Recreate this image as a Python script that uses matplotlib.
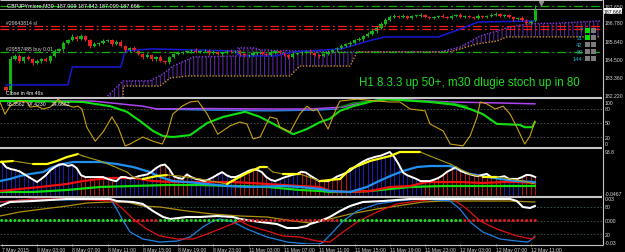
import matplotlib
matplotlib.use('Agg')
import matplotlib.pyplot as plt
from matplotlib.patches import Polygon, Rectangle
from matplotlib.lines import Line2D
import numpy as np

W, H = 625, 253
plt.rcParams['font.family'] = ['Liberation Sans', 'DejaVu Sans']
plt.rcParams['hatch.linewidth'] = 0.8

# ---------------- data ----------------
title_text = "GBPJPYmicro,M30  187.009 187.842 187.009 187.666"
comment_text = "H1 8.3.3 up 50+, m30 dlugie stoch up in 80"
close_timer = "Close in 4m 46s"
order_sl_label = "#29643814 sl"
order_buy_label = "#29557485 buy 0.01"
stoch_values_text = ["93.3562", "97.4230", "24.6662"]

first_open = 182.78
closes = [182.59, 184.53, 184.72, 184.41, 184.66, 184.53, 184.28, 184.41, 184.53, 184.41,
          184.72, 185.03, 185.16, 185.53, 185.72, 185.91, 185.78, 185.97, 185.72, 185.34,
          185.47, 185.53, 185.66, 185.72, 185.47, 185.59, 185.34, 185.09, 185.22, 185.03,
          184.84, 184.66, 184.78, 184.53, 184.66, 184.41, 184.34, 184.66, 184.84, 184.91,
          184.97, 185.03, 185.09, 184.97, 185.03, 185.09, 184.91, 184.97, 184.84, 184.91,
          185.03, 184.97, 185.03, 184.84, 184.72, 184.78, 184.91, 184.97, 184.84, 184.78,
          184.97, 185.03, 184.91, 184.78, 184.66, 184.84, 184.91, 184.97, 185.03, 184.91,
          184.78, 184.72, 184.84, 184.97, 185.09, 185.22, 185.34, 185.47, 185.53, 185.72,
          185.78, 185.97, 186.09, 186.28, 186.47, 186.72, 186.97, 187.16, 187.22, 187.16,
          187.22, 187.09, 187.22, 187.22, 187.28, 187.16, 187.09, 187.16, 187.22, 187.16,
          187.09, 187.22, 187.28, 187.16, 187.22, 187.16, 187.09, 187.22, 187.16, 187.22,
          187.28, 187.34, 187.22, 187.28, 187.16, 187.03, 187.09, 186.97, 186.78, 186.91,
          187.666]
wick_up = [0.08, 0.18, 0.10, 0.12, 0.07, 0.15, 0.06, 0.10, 0.08, 0.11,
           0.07, 0.10, 0.08, 0.14, 0.08, 0.18, 0.12, 0.15, 0.07, 0.08,
           0.10, 0.06, 0.11, 0.08, 0.07, 0.12, 0.10, 0.08, 0.07, 0.10,
           0.08, 0.06, 0.11, 0.07, 0.08, 0.10, 0.06, 0.08, 0.07, 0.10,
           0.06, 0.08, 0.07, 0.10, 0.06, 0.08, 0.07, 0.10, 0.06, 0.08,
           0.07, 0.10, 0.06, 0.08, 0.07, 0.06, 0.10, 0.07, 0.08, 0.06,
           0.10, 0.07, 0.08, 0.06, 0.07, 0.10, 0.06, 0.08, 0.07, 0.10,
           0.06, 0.08, 0.07, 0.10, 0.08, 0.07, 0.10, 0.08, 0.11, 0.07,
           0.10, 0.08, 0.12, 0.10, 0.11, 0.14, 0.10, 0.12, 0.11, 0.08,
           0.10, 0.07, 0.08, 0.06, 0.10, 0.07, 0.08, 0.06, 0.07, 0.10,
           0.06, 0.08, 0.07, 0.10, 0.06, 0.08, 0.07, 0.10, 0.08, 0.06,
           0.10, 0.15, 0.07, 0.08, 0.06, 0.07, 0.08, 0.10, 0.07, 0.08,
           0.25]
wick_dn = [0.15, 0.22, 0.08, 0.10, 0.11, 0.08, 0.12, 0.07, 0.10, 0.08,
           0.11, 0.07, 0.08, 0.10, 0.07, 0.08, 0.10, 0.07, 0.08, 0.11,
           0.08, 0.10, 0.07, 0.08, 0.10, 0.07, 0.08, 0.11, 0.10, 0.08,
           0.07, 0.10, 0.08, 0.11, 0.12, 0.08, 0.14, 0.10, 0.08, 0.07,
           0.08, 0.06, 0.10, 0.07, 0.08, 0.06, 0.10, 0.07, 0.08, 0.11,
           0.06, 0.07, 0.08, 0.10, 0.07, 0.08, 0.06, 0.10, 0.07, 0.08,
           0.07, 0.10, 0.08, 0.06, 0.11, 0.07, 0.08, 0.10, 0.07, 0.06,
           0.08, 0.10, 0.07, 0.08, 0.06, 0.10, 0.07, 0.08, 0.10, 0.07,
           0.08, 0.10, 0.07, 0.08, 0.10, 0.07, 0.08, 0.06, 0.07, 0.08,
           0.06, 0.07, 0.08, 0.06, 0.07, 0.08, 0.06, 0.07, 0.08, 0.06,
           0.07, 0.08, 0.06, 0.07, 0.08, 0.06, 0.07, 0.08, 0.06, 0.07,
           0.08, 0.06, 0.07, 0.08, 0.06, 0.10, 0.07, 0.08, 0.12, 0.07,
           0.08]

blue_idx = [1, 15, 16, 27, 28, 34, 53, 54, 62, 66, 77, 80, 84, 87, 99, 104, 108, 121]
blue_val = [182.91, 182.91, 184.03, 184.03, 185.03, 185.16, 185.03, 184.72, 184.72, 184.97,
            185.16, 185.40, 185.72, 185.91, 185.91, 186.40, 186.84, 186.91]

cloud_up_idx = [24, 27.5, 33.6, 36.6, 38.8, 42, 43.4, 53.4, 53.6, 57.5, 58.6, 67.6, 74.4,
                99.4, 104, 108.5, 112.3, 115.3, 119, 126.6, 135.7]
cloud_up_val = [182.22, 183.16, 183.16, 183.59, 184.09, 184.47, 184.66, 184.72, 185.22, 185.22,
                185.09, 185.03, 184.97, 184.97, 185.28, 185.97, 186.28, 186.53, 186.72, 186.78, 186.91]
cloud_lo_idx = [24, 27.5, 27.6, 35.9, 38.2, 42, 65.4, 67.6, 79, 80.6, 101.6, 107.8, 112.3, 114.6, 135.7]
cloud_lo_val = [182.10, 182.10, 182.84, 182.84, 183.34, 183.47, 183.47, 184.09, 184.09, 184.97,
                184.97, 185.47, 185.66, 185.91, 185.91]

bid_price = 187.666
tp_level = 187.84
sl_levels = [186.59, 186.405]
buy_level = 184.97

price_ticks = [186.780, 185.640, 184.500, 183.360, 182.220]
price_top_tick = 187.650

ma_periods = ["7", "21", "42", "89", "144"]
ma_state_a = [1, 1, 0, 0, 0]
ma_state_b = [0, 0, 0, 0, 0]

# panel 2 (stochastics)
p2_yel_idx = [-0.4, 0.75, 1.9, 3.7, 5.7, 6.4, 8.0, 9.4, 11.0, 12.8, 13.9, 16.2, 17.3, 18.2, 19.3,
              21.2, 23.0, 25.0, 26.4, 28.0, 29.1, 32.0, 34.3, 36.4, 37.5, 38.8, 40.9, 42.7, 44.5,
              46.6, 49.0, 51.8, 54.0, 55.6, 57.0, 58.6, 60.8, 62.4, 63.1, 65.4, 67.6, 69.2, 70.6,
              71.5, 74.0, 76.0, 76.7, 80.6, 85.1, 88.1, 90.3, 92.6, 96.0, 97.1, 100.1, 101.7,
              104.6, 106.2, 107.8, 108.5, 110.0, 111.9, 113.7, 115.3, 116.8, 118.6, 119.8, 120.9]
p2_yel_val = [95, 69, 86, 97, 95, 84, 86, 80, 84, 101, 91, 84, 86, 80, 41,
              11, 31, 63, 41, 1, 5, 20, 11, 5, 26, 69, 86, 95, 97,
              69, 26, 44, 52, 48, 16, 20, 63, 59, 41, 31, 69, 86, 76,
              80, 37, 84, 97, 101, 97, 95, 95, 80, 76, 48, 33, 5,
              1, 22, 63, 95, 91, 80, 86, 69, 41, 5, 22, 54]
p2_grn_idx = [-0.4, 7.1, 18.4, 24.6, 28.4, 31.4, 34.3, 36.6, 38.8, 42.7, 46.6, 50.2, 55.2, 58.6,
              62.4, 66.1, 69.2, 72.2, 74.4, 76.7, 79.7, 84.2, 87.4, 97.1, 102.8, 106.2, 109.1,
              112.3, 117.5, 118.6, 120.3, 120.9]
p2_grn_val = [97, 97, 95, 86, 74, 54, 33, 22, 20, 24, 50, 63, 74, 63,
              44, 26, 37, 52, 59, 76, 86, 97, 101, 95, 89, 80, 69,
              48, 46, 41, 41, 52]
p2_pur_idx = [-0.4, 20.7, 26.8, 32.0, 35.2, 45.0, 60.2, 69.9, 77.4, 81.9, 87.4, 92.6, 101.7, 112.3, 120.9]
p2_pur_val = [97, 97, 91, 86, 80, 81, 80, 80, 84, 95, 101, 99, 95, 93, 91]
p2_blu_idx = [35.2, 45.0, 60.8, 72.2, 76.0]
p2_blu_val = [80, 78, 76, 78, 80]
p2_dgr_idx = [76.7, 79.7, 87.4, 94.9, 101.7, 105.5]
p2_dgr_val = [84, 93, 100, 97, 93, 86]
p2_levels = [80, 50, 20]
p2_labels = ["100", "80", "50", "20", "0"]
p2_label_vals = [100, 80, 50, 20, 0]

# panel 3
hist = [74, 62, 58, 56, 53, 47, 41, 35, 29, 36,
        44, 55, 62, 68, 69, 65, 67, 60, 44, 40,
        40, 40, 40, 40, 36, 33, 31, 40, 40, 37,
        38, 42, 44, 46, 52, 60, 66, 68, 58, 42,
        38, 36, 46, 40, 36, 34, 31, 35, 40, 46,
        51, 44, 40, 40, 44, 49, 54, 57, 56, 51,
        40, 34, 31, 35, 39, 42, 45, 47, 52, 50,
        43, 37, 31, 31, 31, 35, 41, 45, 49, 54,
        62, 69, 75, 80, 83, 86, 88, 92, 96, 85,
        69, 50, 44, 40, 36, 31, 31, 31, 34, 38,
        44, 52, 57, 62, 54, 50, 47, 44, 42, 45,
        47, 40, 40, 40, 42, 36, 36, 36, 40, 45,
        44, 40]
hist_dir = ("bbbbbbbbbbbbbbbbbb" "rrrrrrrr" "bbbbbbbbbb" "rrrrrrr" "bbbbbbbbbb" "rrrrrrrr"
            "bbbbbbb" "rrrrrrrrrrr" "bbbbbbbbbbbbbbbbb" "rrrrrrrrrrrrrrrrrr" "bbbb" "rrrr")
p3_yel_idx = [-0.4, 2.6, 4.1, 7.1, 10.3, 12.5, 14.8, 17.3, 18.4, 22.3, 25.2, 28.4, 29.8, 32.0, 35.2,
              37.5, 40.4, 45.0, 51.1, 51.8, 55.2, 58.6, 60.2, 61.5, 63.8, 67.6, 72.2, 74.4, 76.7,
              79.0, 83.5, 88.1, 90.3, 94.9, 97.1, 101.7, 103.9, 106.2, 109.1, 112.3, 115.3, 118.2, 120.9]
p3_yel_val = [73.7, 75.9, 73.7, 69.2, 69.2, 75.9, 84.8, 91.5, 87.1, 75.9, 64.7, 51.3, 40.2, 35.7, 42.4,
              44.6, 42.4, 35.7, 24.6, 29.0, 46.9, 62.5, 62.5, 51.3, 46.9, 46.9, 31.2, 33.5, 35.7,
              58.0, 75.9, 87.1, 96.0, 96.0, 87.1, 69.2, 58.0, 46.9, 40.2, 40.2, 35.7, 31.2, 24.6]
p3_blu_idx = [-0.4, 1.9, 4.1, 6.4, 9.4, 11.6, 13.9, 16.2, 18.4, 22.3, 26.1, 29.8, 33.6, 35.9, 38.8,
              42.0, 46.6, 51.1, 56.3, 63.8, 67.6, 72.2, 74.4, 79.0, 82.8, 85.1, 88.1, 91.0, 94.2,
              97.1, 101.7, 103.2, 106.2, 109.1, 113.0, 116.8, 120.9]
p3_blu_val = [31.2, 35.7, 42.4, 46.9, 51.3, 62.5, 69.2, 73.7, 73.7, 73.7, 69.2, 62.5, 51.3, 40.2, 31.2,
              29.0, 24.6, 20.1, 17.9, 20.1, 17.9, 13.4, 8.9, 6.7, 17.9, 29.0, 42.4, 53.6, 62.5,
              64.7, 64.7, 58.0, 46.9, 42.4, 35.7, 31.2, 29.0]
p3_red_idx = [-0.4, 4.1, 8.7, 14.8, 18.4, 22.3, 25.2, 29.8, 34.3, 38.8, 45.0, 52.5, 60.2, 67.6, 72.2,
              74.4, 79.0, 83.5, 88.1, 92.6, 96.4, 100.1, 103.9, 109.1, 113.7, 116.8, 120.9]
p3_red_val = [8.9, 13.4, 17.9, 24.6, 31.2, 35.7, 37.9, 37.9, 31.2, 29.0, 29.0, 29.0, 24.6, 20.1, 17.9,
              8.9, 6.7, 8.9, 17.9, 20.1, 29.0, 29.0, 29.0, 26.8, 29.0, 29.0, 26.8]
p3_grn_idx = [-0.4, 7.1, 14.8, 22.3, 29.8, 37.5, 45.0, 52.5, 60.2, 67.6, 72.2, 74.4, 79.0, 83.5,
              88.1, 92.6, 100.1, 107.8, 115.3, 120.9]
p3_grn_val = [6.7, 6.7, 11.2, 17.9, 20.1, 22.3, 22.3, 20.1, 17.9, 11.2, 8.9, 6.7, 6.7, 8.9,
              13.4, 17.9, 20.1, 20.1, 20.1, 20.1]
p3_top_label = "93.8"
p3_bottom_label = "-0.0467"

# panel 4
p4_wht_idx = [-0.4, 1.9, 7.1, 14.8, 24.6, 26.1, 29.8, 32.0, 34.3, 36.6, 38.2, 42.0, 45.0, 48.8, 52.5,
              54.0, 58.6, 62.4, 64.7, 67.0, 69.2, 69.9, 72.2, 74.4, 76.7, 79.0, 81.9, 86.5, 92.6,
              115.3, 116.8, 118.2, 119.8, 120.9]
p4_wht_val = [82.2, 91.1, 93.3, 97.8, 97.8, 93.3, 91.1, 86.7, 71.1, 57.8, 53.3, 57.8, 57.8, 60.0, 57.8,
              53.3, 46.7, 42.2, 33.3, 33.3, 37.8, 42.2, 48.9, 57.8, 71.1, 82.2, 91.1, 93.3, 97.8,
              97.8, 93.3, 80.0, 77.8, 82.2]
p4_red_idx = [-0.4, 7.1, 14.8, 25.2, 27.5, 29.8, 32.9, 35.9, 39.8, 43.4, 46.6, 51.1, 54.0, 56.3, 60.2,
              63.8, 67.6, 71.5, 74.4, 77.4, 80.6, 85.1, 89.6, 94.2, 98.7, 102.3, 105.5, 108.5, 112.3,
              116.8, 120.3, 120.9]
p4_red_val = [91.1, 97.8, 97.8, 93.3, 75.6, 53.3, 31.1, 15.6, 8.9, 8.9, 20.0, 37.8, 48.9, 37.8, 26.7,
              15.6, 13.3, 4.4, 2.2, 24.4, 46.7, 68.9, 86.7, 93.3, 97.8, 97.8, 75.6, 48.9, 31.1,
              15.6, 8.9, 15.6]
p4_blu_idx = [-0.4, 7.1, 14.8, 24.6, 25.7, 27.3, 29.1, 32.0, 35.9, 39.8, 42.7, 45.6, 47.9, 49.5, 52.5,
              55.6, 60.2, 64.7, 69.2, 72.2, 72.9, 75.1, 77.4, 80.6, 85.1, 89.6, 94.9, 101.7, 103.9,
              106.2, 109.1, 113.0, 116.8, 119.3, 120.9]
p4_blu_val = [91.1, 97.8, 95.6, 97.8, 82.2, 53.3, 24.4, 8.9, 2.2, 4.4, 13.3, 35.6, 48.9, 53.3, 46.7,
              31.1, 13.3, 2.2, -2.0, -2.0, 2.2, 24.4, 48.9, 71.1, 86.7, 93.3, 97.8, 93.3, 75.6,
              46.7, 24.4, 8.9, 4.4, 2.2, 13.3]
p4_olv_idx = [-0.4, 4.1, 9.4, 14.8, 19.3, 24.6, 28.4, 32.0, 35.9, 42.0, 47.9, 54.0, 60.2, 66.1,
              69.9, 74.4, 79.0, 85.1, 89.6, 95.5, 100.1, 115.3, 120.9]
p4_olv_val = [60.0, 68.9, 75.6, 82.2, 88.9, 91.1, 91.1, 82.2, 80.0, 71.1, 64.4, 60.0, 57.8, 48.9,
              44.4, 53.3, 64.4, 75.6, 82.2, 91.1, 93.3, 93.3, 91.1]
p4_dots = ("g" * 30 + "r" * 6 + "g" * 18 + "r" * 23 + "g" * 28 + "r" * 17)
p4_levels = [80, 50, 20]
p4_labels = ["0.03", "80", "0000", "20", "-0.03"]
p4_label_vals = [99, 82, 50, 20, 1]

date_idx = [0, 8, 16, 24, 32, 40, 48, 56, 64, 72, 80, 88, 96, 104, 112, 120]
date_labels = ["7 May 2015", "8 May 03:00", "8 May 07:00", "8 May 11:00", "8 May 15:00",
               "8 May 19:00", "8 May 23:00", "11 May 03:00", "11 May 07:00", "11 May 11:00",
               "11 May 15:00", "11 May 19:00", "11 May 23:00", "12 May 03:00", "12 May 07:00",
               "12 May 11:00"]

# ---------------- drawing ----------------
XMIN, XMAX = -0.385, 136.12
AXIS_X = 602
LBL = '#d8d8d8'
SMALL = 3.7

fig = plt.figure(figsize=(W / 100, H / 100), dpi=100, facecolor='black')


def px_axes(x0, y0, x1, y1, ylim):
    ax = fig.add_axes([x0 / W, 1 - y1 / H, (x1 - x0) / W, (y1 - y0) / H])
    ax.set_facecolor('black')
    for s in ax.spines.values():
        s.set_visible(False)
    ax.set_xticks([])
    ax.set_yticks([])
    ax.set_xlim(XMIN, XMAX)
    ax.set_ylim(*ylim)
    return ax


def ftext(x, y, s, **kw):
    kw.setdefault('va', 'center')
    kw.setdefault('ha', 'left')
    kw.setdefault('fontsize', SMALL)
    kw.setdefault('color', LBL)
    fig.text(x / W, 1 - y / H, s, **kw)


def fline(x0, y0, x1, y1, color='#c4c4c4', lw=1.0):
    fig.add_artist(Line2D([x0 / W, x1 / W], [1 - y0 / H, 1 - y1 / H],
                          transform=fig.transFigure, color=color, lw=lw, solid_capstyle='butt'))


def rlabel(ax, val, s, **kw):
    kw.setdefault('va', 'center')
    ax.text(1.005, val, s, transform=ax.get_yaxis_transform(), fontsize=SMALL,
            color=LBL, ha='left', clip_on=False, **kw)


# ---- main panel ----
ax = px_axes(0, 2, AXIS_X, 98, (182.155, 188.155))

# cloud
poly = list(zip(cloud_up_idx, cloud_up_val)) + list(zip(cloud_lo_idx[::-1], cloud_lo_val[::-1]))
ax.add_patch(Polygon(poly, closed=True, fill=False, hatch='||||',
                     edgecolor=(0.45, 0.2, 0.8, 0.75), lw=0))
ax.plot(cloud_up_idx, cloud_up_val, color='#8a3ae8', ls=(0, (1, 1.2)), lw=1.0)
ax.plot(cloud_lo_idx, cloud_lo_val, color='#c8901c', ls=(0, (1, 1.2)), lw=1.0)

# horizontal order lines
dashdot = (0, (7, 2.5, 1.5, 2.5))
ax.axhline(tp_level, color='#10b010', lw=0.9, ls=dashdot)
for lv in sl_levels:
    ax.axhline(lv, color='#ff1a1a', lw=0.9, ls=dashdot)
ax.axhline(buy_level, color='#10b010', lw=0.9, ls=dashdot)
ax.axhline(bid_price, color='#9a9a9a', lw=0.7)

ax.plot(blue_idx, blue_val, color='#1818d8', lw=1.1)

# candles
n = len(closes)
idx = np.arange(1, n + 1)
opens = np.array([first_open] + closes[:-1])
cl = np.array(closes)
hi = np.maximum(opens, cl) + np.array(wick_up)
lo = np.minimum(opens, cl) - np.array(wick_dn)
cols = ['#12b312' if c >= o else '#e82020' for o, c in zip(opens, cl)]
ax.vlines(idx, lo, hi, colors=cols, lw=0.75)
ax.bar(idx, np.maximum(np.abs(cl - opens), 0.05), bottom=np.minimum(opens, cl),
       width=0.75, color=cols, lw=0)

ax.plot([122.4], [188.05], marker='v', color='#8a8a8a', ms=3, clip_on=False)

# price axis labels
for v in price_ticks:
    rlabel(ax, v, f"{v:.3f}")
rlabel(ax, price_top_tick, f"{price_top_tick:.3f}", )
ax.texts[-1].set_va('bottom')
ax.text(1.002, bid_price, f"{bid_price:.3f}", transform=ax.get_yaxis_transform(),
        fontsize=SMALL, color='black', va='top', ha='left', clip_on=False,
        bbox=dict(boxstyle='square,pad=0.12', fc='white', ec='none'))

ax.text(0.012, 0.96, title_text, transform=ax.transAxes, fontsize=3.9, color='white', va='center')
ax.text(0.010, 186.67, order_sl_label, fontsize=3.7, color='#d0d0d0', va='bottom',
        transform=ax.get_yaxis_transform())
ax.text(0.010, 185.00, order_buy_label, fontsize=3.7, color='#d0d0d0', va='bottom',
        transform=ax.get_yaxis_transform())
ax.text(0.010, 0.02, close_timer, transform=ax.transAxes, fontsize=3.7, color='white', va='bottom')
ftext(359, 83, comment_text, fontsize=8.3, color='#20e020')

# MA ladder
for k, (lab, a, b) in enumerate(zip(ma_periods, ma_state_a, ma_state_b)):
    yy = 31 + k * 7.2
    ftext(582.5, yy, lab, ha='right', color='#20b8c8', fontsize=4.0)
    for j, st in enumerate((a, b)):
        fig.add_artist(Rectangle(((585 + 6 * j) / W, 1 - (yy + 2.5) / H), 5 / W, 5 / H,
                                 transform=fig.transFigure,
                                 color='#00e000' if st else '#7c7c7c', lw=0))

# ---- panel 2 ----
ax2 = px_axes(0, 100, AXIS_X, 148, (-1.39, 101.39))
for lv in p2_levels:
    ax2.axhline(lv, color='#505858', lw=0.6, ls=(0, (2, 2)))
ax2.plot(p2_blu_idx, p2_blu_val, color='#2a7ad8', lw=1.1)
ax2.plot(p2_pur_idx, p2_pur_val, color='#b044f0', lw=1.1)
ax2.plot(p2_dgr_idx, p2_dgr_val, color='#0a8a0a', lw=1.1)
ax2.plot(p2_grn_idx, p2_grn_val, color='#10e010', lw=1.5)
ax2.plot(p2_yel_idx, p2_yel_val, color='#c8a010', lw=0.8)
for s, v in zip(p2_labels, p2_label_vals):
    va = 'top' if v == 100 else ('bottom' if v == 0 else 'center')
    rlabel(ax2, v, s, va=va)
for s, xx in zip(stoch_values_text, [7, 28, 52]):
    ftext(xx, 105, s, fontsize=3.7, color='white')

# ---- panel 3 ----
ax3 = px_axes(0, 150, AXIS_X, 197, (-2.23, 102.7))
hx = np.arange(len(hist))
hcols = ['#1c1ca8' if c == 'b' else '#b01414' for c in hist_dir]
ax3.vlines(hx, 0, hist, colors=hcols, lw=0.8)
ax3.plot(hx, hist, color='#a0a0a0', lw=0.6)
ax3.plot(p3_grn_idx, p3_grn_val, color='#10e010', lw=1.6)
ax3.plot(p3_red_idx, p3_red_val, color='#f01010', lw=1.6)
ax3.plot(p3_blu_idx, p3_blu_val, color='#2090f0', lw=1.6)
ax3.plot(hx, hist, color='white', lw=1.4)
for k in range(len(p3_yel_idx) - 1):
    up = p3_yel_val[k + 1] >= p3_yel_val[k]
    ax3.plot(p3_yel_idx[k:k + 2], p3_yel_val[k:k + 2],
             color='#ffff10' if up else '#a89a10', lw=1.6 if up else 0.8,
             solid_capstyle='round')
rlabel(ax3, 102.7, p3_top_label, va='top')
rlabel(ax3, -2.2, p3_bottom_label, va='bottom')

# ---- panel 4 ----
ax4 = px_axes(0, 199, AXIS_X, 245, (-2.2, 100))
for lv in p4_levels:
    ax4.axhline(lv, color='#3e5a5a', lw=0.6, ls=(0, (2, 2)))
ax4.plot(p4_olv_idx, p4_olv_val, color='#b09010', lw=0.9)
ax4.plot(p4_blu_idx, p4_blu_val, color='#2080e0', lw=0.9)
ax4.plot(p4_red_idx, p4_red_val, color='#e01010', lw=0.9)
ax4.plot(p4_wht_idx, p4_wht_val, color='white', lw=1.5)
dx = np.arange(len(p4_dots))
dcols = ['#20e020' if c == 'g' else '#e02020' for c in p4_dots]
ax4.scatter(dx, np.full(len(dx), 50.0), s=4.5, c=dcols, lw=0, zorder=5)
for s, v in zip(p4_labels, p4_label_vals):
    rlabel(ax4, v, s)

ax4.set_xticks(date_idx)
ax4.set_xticklabels(date_labels, ha='left')
ax4.tick_params(axis='x', colors=LBL, labelsize=3.7, length=1.5, pad=0.4, width=0.5)

# ---- frame lines ----
fline(0, 1, AXIS_X, 1, lw=0.8)
fline(0, 99, AXIS_X, 99, lw=1.5)
fline(0, 148.8, AXIS_X, 148.8, lw=1.5)
fline(0, 198.2, AXIS_X, 198.2, lw=1.5)
fline(0, 245.6, AXIS_X + 1, 245.6, lw=0.8)
fline(AXIS_X + 0.5, 0, AXIS_X + 0.5, 246, lw=0.8)

fig.savefig('out.png', dpi=100, facecolor='black')
